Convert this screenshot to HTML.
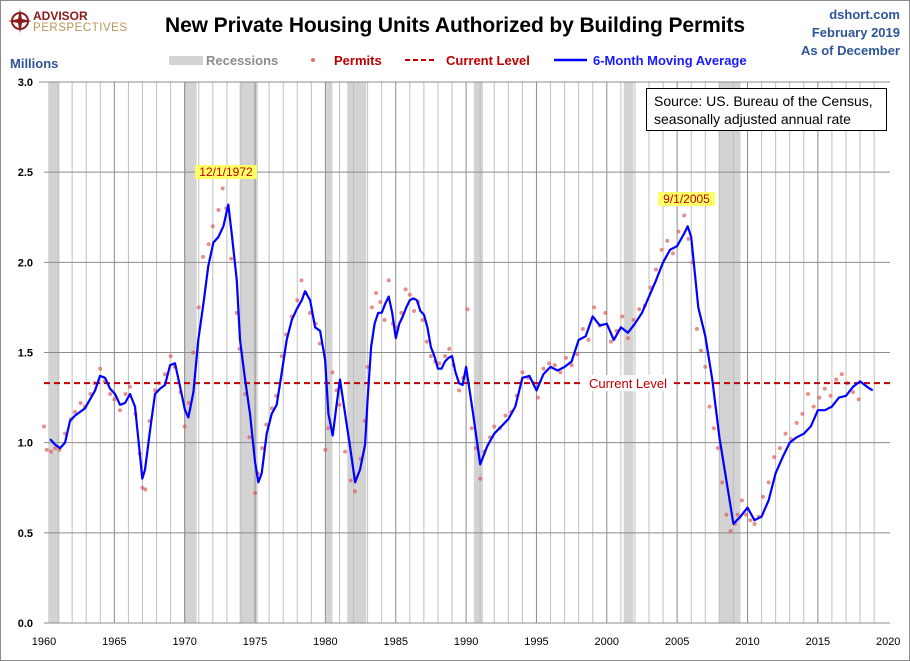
<!DOCTYPE html>
<html><head><meta charset="utf-8"><style>
body{margin:0;background:#fff;}
#wrap{position:relative;width:910px;height:661px;overflow:hidden;font-family:"Liberation Sans",sans-serif;}
svg text{font-family:"Liberation Sans",sans-serif;}
</style></head><body>
<div id="wrap">
<svg id="chart" width="910" height="661">
<rect x="0.5" y="0.5" width="909" height="660" fill="#fff" stroke="#8c8c8c"/>
<g>
<circle cx="20" cy="21" r="8" fill="none" stroke="#8b1a1a" stroke-width="2"/>
<path d="M20 9 L22 19 L32 21 L22 23 L20 33 L18 23 L8 21 L18 19Z" fill="#8b1a1a"/>
<text x="33" y="20" font-size="12" font-weight="bold" fill="#8b1a1a">ADVISOR</text>
<text x="33" y="31" font-size="11.5" fill="#b8965a" textLength="94">PERSPECTIVES</text>
</g>
<text x="455" y="32" text-anchor="middle" font-size="21" font-weight="bold" fill="#000" textLength="580">New Private Housing Units Authorized by Building Permits</text>
<text x="900" y="19" text-anchor="end" font-size="13" font-weight="bold" fill="#2e5597">dshort.com</text>
<text x="900" y="37" text-anchor="end" font-size="13" font-weight="bold" fill="#2e5597">February 2019</text>
<text x="900" y="55" text-anchor="end" font-size="13" font-weight="bold" fill="#2e5597">As of December</text>
<text x="10" y="68" font-size="13" font-weight="bold" fill="#2e5597">Millions</text>
<g>
<rect x="169" y="56" width="34" height="9" fill="#d3d3d3"/>
<text x="206" y="65" font-size="13" font-weight="bold" fill="#8c8c8c">Recessions</text>
<circle cx="313" cy="60" r="2" fill="#e07070"/>
<text x="334" y="65" font-size="13" font-weight="bold" fill="#c00000">Permits</text>
<line x1="405" y1="60" x2="437" y2="60" stroke="#c00000" stroke-width="2" stroke-dasharray="5,3"/>
<text x="446" y="65" font-size="13" font-weight="bold" fill="#c00000">Current Level</text>
<line x1="554" y1="60" x2="587" y2="60" stroke="#0000ff" stroke-width="2.5"/>
<text x="593" y="65" font-size="13" font-weight="bold" fill="#1a1aff">6-Month Moving Average</text>
</g>
<g id="plot"></g>
</svg>
</div>
<script>
const recessionStarts=[1960.3,1969.95,1973.9,1980.05,1981.55,1990.55,2001.2,2007.95];
const recessionEnds=[1961.1,1970.85,1975.2,1980.5,1982.9,1991.2,2001.9,2009.5];
const yTicks=[0,0.5,1.0,1.5,2.0,2.5,3.0];
const yTickLabels=["0.0","0.5","1.0","1.5","2.0","2.5","3.0"];
const xTicks=[1960,1965,1970,1975,1980,1985,1990,1995,2000,2005,2010,2015,2020];
const currentLevel=1.33;
const maYears=[1960.43,1960.78,1961.14,1961.49,1961.85,1962.2,1962.56,1962.91,1963.27,1963.63,1963.98,1964.34,1964.69,1965.05,1965.4,1965.76,1966.11,1966.47,1966.82,1966.99,1967.18,1967.54,1967.89,1968.25,1968.6,1968.96,1969.31,1969.67,1970.02,1970.26,1970.62,1970.97,1971.33,1971.68,1972.04,1972.39,1972.75,1973.1,1973.34,1973.7,1973.93,1974.29,1974.64,1975.0,1975.24,1975.47,1975.83,1976.18,1976.54,1976.9,1977.25,1977.61,1977.96,1978.32,1978.55,1978.91,1979.27,1979.62,1979.98,1980.21,1980.52,1980.81,1981.04,1981.4,1981.75,1982.11,1982.46,1982.82,
1983.0,1983.25,1983.5,1983.75,1984.0,1984.25,1984.5,1984.75,1985.0,1985.25,1985.5,1985.75,1986.0,1986.25,1986.5,1986.75,1987.0,1987.25,1987.5,1987.75,1988.0,1988.25,1988.5,1988.75,1989.0,1989.25,1989.5,1989.75,1990.0,
1990.5,1991.0,1991.5,1992.0,1992.5,1993.0,1993.5,1994.0,1994.5,1995.0,1995.5,1996.0,1996.5,1997.0,1997.5,1998.0,1998.5,1999.0,1999.5,2000.0,2000.5,2001.0,2001.5,2002.0,2002.5,2003.0,2003.5,2004.0,2004.5,2005.0,2005.5,2005.75,2006.0,2006.5,2007.0,2007.5,2008.0,2008.5,2009.0,2009.5,2010.0,2010.5,2011.0,2011.5,2012.0,2012.5,2013.0,2013.5,2014.0,2014.5,2015.0,2015.5,2016.0,2016.5,2017.0,2017.5,2018.0,2018.5,2018.9];
const maValues=[1.02,0.99,0.97,1.0,1.12,1.15,1.17,1.19,1.24,1.29,1.37,1.36,1.3,1.27,1.21,1.22,1.27,1.2,0.93,0.8,0.85,1.07,1.27,1.3,1.32,1.43,1.44,1.31,1.18,1.14,1.28,1.57,1.77,1.98,2.11,2.14,2.2,2.32,2.16,1.9,1.57,1.35,1.16,0.89,0.78,0.83,1.05,1.16,1.21,1.39,1.57,1.68,1.74,1.79,1.84,1.79,1.64,1.62,1.46,1.16,1.04,1.22,1.35,1.16,0.98,0.78,0.85,0.99,
1.24,1.53,1.66,1.72,1.72,1.77,1.81,1.72,1.58,1.66,1.7,1.75,1.79,1.8,1.79,1.73,1.71,1.64,1.53,1.48,1.41,1.41,1.45,1.47,1.48,1.39,1.33,1.32,1.42,
1.16,0.88,0.98,1.05,1.09,1.13,1.2,1.36,1.37,1.29,1.38,1.42,1.4,1.42,1.45,1.57,1.59,1.7,1.65,1.66,1.57,1.64,1.61,1.66,1.72,1.81,1.9,2.0,2.07,2.09,2.16,2.2,2.14,1.75,1.59,1.35,1.03,0.79,0.55,0.59,0.64,0.57,0.59,0.68,0.83,0.92,1.0,1.03,1.05,1.09,1.18,1.18,1.2,1.25,1.26,1.31,1.34,1.31,1.29];
const permitYears=[1960.0,1960.2,1960.5,1960.8,1961.1,1961.5,1961.9,1962.2,1962.6,1962.9,1963.3,1963.6,1964.0,1964.3,1964.7,1965.0,1965.4,1965.8,1966.1,1966.5,1966.8,1967.0,1967.2,1967.5,1967.9,1968.2,1968.6,1969.0,1969.3,1969.7,1970.0,1970.3,1970.6,1971.0,1971.3,1971.7,1972.0,1972.4,1972.7,1972.95,1973.3,1973.7,1973.9,1974.3,1974.6,1975.0,1975.2,1975.5,1975.8,1976.2,1976.5,1976.9,1977.2,1977.6,1978.0,1978.3,1978.6,1978.9,1979.3,1979.6,1980.0,1980.2,1980.5,1980.8,1981.0,1981.4,1981.8,1982.1,1982.5,1982.8,1983.0,1983.3,1983.6,1983.9,1984.2,1984.5,1984.8,1985.1,1985.4,1985.7,1986.0,1986.3,1986.6,1986.9,1987.2,1987.5,1987.8,1988.1,1988.5,1988.8,1989.1,1989.5,1989.8,1990.1,1990.4,1990.7,1991.0,1991.3,1991.7,1992.0,1992.4,1992.8,1993.2,1993.6,1994.0,1994.4,1994.8,1995.1,1995.5,1995.9,1996.3,1996.7,1997.1,1997.5,1997.9,1998.3,1998.7,1999.1,1999.5,1999.9,2000.3,2000.7,2001.1,2001.5,2001.9,2002.3,2002.7,2003.1,2003.5,2003.9,2004.3,2004.7,2005.1,2005.5,2005.8,2006.1,2006.4,2006.7,2007.0,2007.3,2007.6,2007.9,2008.2,2008.5,2008.8,2009.1,2009.3,2009.6,2009.9,2010.2,2010.5,2010.8,2011.1,2011.5,2011.9,2012.3,2012.7,2013.1,2013.5,2013.9,2014.3,2014.7,2015.1,2015.5,2015.9,2016.3,2016.7,2017.1,2017.5,2017.9,2018.2,2018.5,2018.8,2018.95];
const permitValues=[1.09,0.96,0.95,0.97,0.96,1.05,1.13,1.17,1.22,1.2,1.27,1.33,1.41,1.34,1.27,1.24,1.18,1.27,1.31,1.16,0.94,0.75,0.74,1.12,1.29,1.33,1.38,1.48,1.42,1.28,1.09,1.22,1.5,1.75,2.03,2.1,2.2,2.29,2.41,2.3,2.02,1.72,1.52,1.27,1.03,0.72,0.83,0.97,1.1,1.19,1.26,1.48,1.6,1.7,1.79,1.9,1.83,1.72,1.66,1.55,0.96,1.08,1.39,1.29,1.21,0.95,0.79,0.73,0.91,1.12,1.42,1.75,1.83,1.78,1.68,1.9,1.66,1.64,1.72,1.85,1.82,1.73,1.78,1.68,1.56,1.48,1.45,1.44,1.48,1.52,1.43,1.29,1.36,1.74,1.08,0.97,0.8,0.95,1.03,1.09,1.08,1.15,1.17,1.26,1.39,1.36,1.33,1.25,1.41,1.44,1.43,1.39,1.47,1.43,1.49,1.63,1.57,1.75,1.65,1.72,1.56,1.62,1.7,1.58,1.68,1.74,1.76,1.86,1.96,2.07,2.12,2.05,2.17,2.26,2.13,2.0,1.63,1.51,1.42,1.2,1.08,0.97,0.78,0.6,0.51,0.55,0.6,0.68,0.6,0.57,0.55,0.59,0.7,0.78,0.92,0.97,1.05,1.02,1.11,1.16,1.27,1.2,1.25,1.3,1.26,1.35,1.38,1.33,1.28,1.24];

const NS="http://www.w3.org/2000/svg";
const X0=44,PXY=14.07,Y0=623,PXV=180.33,XL=44,XR=890,YT=82;
function xs(y){return X0+(y-1960)*PXY;}
function ys(v){return Y0-v*PXV;}
const plot=document.getElementById('plot');
function mk(tag,attrs,parent){const e=document.createElementNS(NS,tag);for(const k in attrs)e.setAttribute(k,attrs[k]);(parent||plot).appendChild(e);return e;}

const recG=mk('g',{});


for(let i=0;i<recessionStarts.length;i++){
  const r=mk('rect',{x:xs(recessionStarts[i]),y:YT,width:xs(recessionEnds[i])-xs(recessionStarts[i]),height:Y0-YT,fill:'#d3d3d3'},recG);
  
  
}
const gridG=mk('g',{});


for(let yr=1961;yr<2020;yr++){
  const major=yr%5===0;
  mk('line',{x1:xs(yr),x2:xs(yr),y1:YT,y2:Y0,stroke:major?'#8c8c8c':'#bfbfbf','stroke-width':1},gridG);
}
yTicks.forEach((v,i)=>{
  if(v>0) mk('line',{x1:XL,x2:XR,y1:ys(v),y2:ys(v),stroke:'#8c8c8c','stroke-width':1},gridG);
  const t=mk('text',{x:33,y:ys(v)+4,'text-anchor':'end','font-size':11,'font-weight':'bold',fill:'#000'});
  t.textContent=yTickLabels[i];
  
  
});
mk('line',{x1:XL,x2:XR,y1:Y0,y2:Y0,stroke:'#8c8c8c','stroke-width':1},gridG);
mk('line',{x1:XL-5,x2:XL,y1:YT,y2:YT,stroke:'#8c8c8c'},gridG);
xTicks.forEach(yr=>{
  const t=mk('text',{x:xs(yr),y:645,'text-anchor':'middle','font-size':11,fill:'#000'});
  t.textContent=String(yr);
  
  
});
const dotG=mk('g',{});


permitValues.forEach((v,i)=>{
  const c=mk('circle',{cx:xs(permitYears[i]),cy:ys(v),r:2,fill:'#d9534f','fill-opacity':0.65},dotG);
  
  
});
const cl=mk('line',{x1:XL,x2:XR,y1:ys(currentLevel),y2:ys(currentLevel),stroke:'#c00000','stroke-width':2,'stroke-dasharray':'6,4'});


const clb=mk('rect',{x:584,y:ys(currentLevel)-8,width:88,height:16,fill:'#fff'});


const clt=mk('text',{x:628,y:ys(currentLevel)+5,'text-anchor':'middle','font-size':13,fill:'#c00000'});
clt.textContent='Current Level';


const pts=maValues.map((v,i)=>xs(maYears[i]).toFixed(1)+','+ys(v).toFixed(1)).join(' ');
const ma=mk('polyline',{points:pts,fill:'none',stroke:'#0000ff','stroke-width':2.2,'stroke-linejoin':'round'});


function ann(x,y,w,txt,name){
  const r=mk('rect',{x:x,y:y-11,width:w,height:14,fill:'#ffff66'});
  
  
  const t=mk('text',{x:x+w/2,y:y,'text-anchor':'middle','font-size':12,fill:'#c00000'});
  t.textContent=txt;
  
  
}
ann(195,176,62,'12/1/1972','peak-annotation-1972');
ann(658,203,57,'9/1/2005','peak-annotation-2005');
const sb=mk('rect',{x:646.5,y:88.5,width:240,height:42,fill:'#fff',stroke:'#000'});


const s1=mk('text',{x:654,y:106,'font-size':14,fill:'#000'});
s1.textContent='Source: US. Bureau of the Census,';


const s2=mk('text',{x:654,y:124,'font-size':14,fill:'#000'});
s2.textContent='seasonally adjusted annual rate';


</script>
</body></html>
